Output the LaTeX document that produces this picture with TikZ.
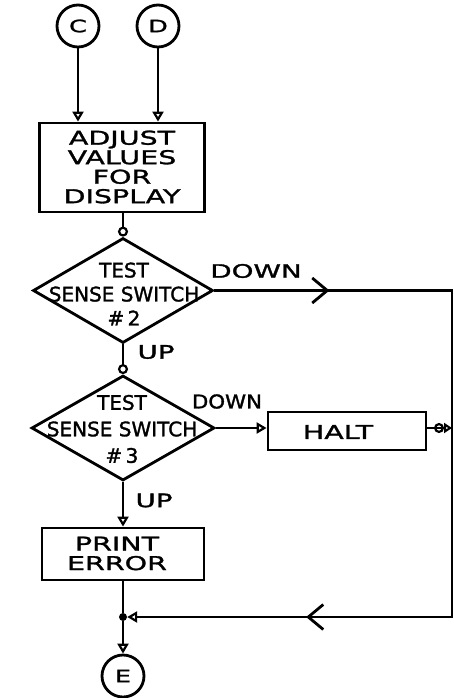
\documentclass[tikz,border=0pt]{standalone}
\usepackage{fontspec}
\setmainfont{DejaVu Sans}
\newfontfamily\widefont[FakeStretch=1.5, FakeBold=1.5]{DejaVu Sans}
\newfontfamily\midfont[FakeStretch=1.12, FakeBold=1.5]{DejaVu Sans}
\newfontfamily\narrowfont[FakeBold=1.5]{DejaVu Sans}
\usetikzlibrary{shapes.geometric,arrows.meta,decorations.markings}
\tikzset{
  ln/.style={line width=2.8pt},
  boxnode/.style={draw, rectangle, line width=2.8pt, inner sep=0pt},
  connnode/.style={draw, circle, line width=2.8pt, minimum size=42pt, inner sep=0pt, font=\widefont\fontsize{17}{18}\selectfont},
  dianode/.style={draw, diamond, line width=2.8pt, inner sep=0pt},
  boxtxt/.style={font=\widefont\fontsize{19}{19.5}\selectfont, align=center, inner sep=0pt},
  diatxt/.style={font=\narrowfont\fontsize{20}{24}\selectfont, align=center, inner sep=0pt},
  lbl/.style={font=\widefont\fontsize{18.5}{20}\selectfont, inner sep=0pt},
  lblb/.style={font=\midfont\fontsize{19}{20}\selectfont, inner sep=0pt},
  toT/.style={-{Triangle[open, length=10pt, width=11pt, line width=2.2pt]}},
  toO/.style={-{Circle[open, length=10pt, width=10pt, line width=2.2pt]}},
  toOT/.style={-{Circle[open, length=10pt, width=10pt, line width=2.2pt]Triangle[open, length=8pt, width=10pt, line width=2.2pt]}},
  chev/.tip={Straight Barb[length=15pt, width=25pt, line width=2.8pt]},
}
\begin{document}
\begin{tikzpicture}[x=1pt, y=-1pt]
\useasboundingbox (0,0) rectangle (453,698);
% connectors C, D
\node[connnode] (C) at (78,26) {C};
\node[connnode] (D) at (158,26) {D};
% adjust box
\node[boxnode, minimum width=165pt, minimum height=89pt] (adj) at (122,167.5) {};
\node[boxtxt] (adjt) at (122,167) {ADJUST\\VALUES\\FOR\\DISPLAY};
% diamonds
\node[dianode, minimum width=180pt, minimum height=105pt] (d1) at (123,290.5) {};
\node[diatxt] (d1t) at (124,294) {TEST\\SENSE SWITCH\\\#\,2\hspace{12pt}};
\node[dianode, minimum width=183pt, minimum height=105pt] (d2) at (123,428) {};
\node[diatxt, font=\narrowfont\fontsize{20}{26.5}\selectfont] (d2t) at (122,429) {TEST\\SENSE SWITCH\\\#\,3\hspace{12pt}};
% halt
\node[boxnode, minimum width=158pt, minimum height=38pt] (halt) at (347,431) {};
\node[boxtxt] (haltt) at (338,432) {HALT};
% print error
\node[boxnode, minimum width=162pt, minimum height=52pt] (pe) at (123,554) {};
\node[boxtxt] (pet) at (117,553.5) {PRINT\\ERROR};
% E
\node[connnode] (E) at (123,676) {E};
% labels
\node[lbl] (down1) at (256,271) {DOWN};
\node[lbl] (up1) at (156,352) {UP};
\node[lblb] (down2) at (227,401.5) {DOWN};
\node[lbl] (up2) at (154,500.5) {UP};
% junctions
\node[circle, fill, minimum size=8pt, inner sep=0pt] (j) at (123,617) {};
\coordinate (r1) at (452,290.5);
\coordinate (r2) at (452,617);
% connectors
\draw[ln, toT] (C) -- (C |- adj.north);
\draw[ln, toT] (D) -- (D |- adj.north);
\draw[ln, toO] (d1.north |- adj.south) -- (d1.north);
\draw[ln, toO] (d1.south) -- (d2.north);
\draw[ln, toT] (d2.south) -- (pe.north);
\draw[ln, toT] (d2.east) -- (d2.east -| halt.west);
\draw[ln, toOT] (halt.east |- d2.east) -- (d2.east -| r1);
\draw[ln, toT, postaction={decorate}, decoration={markings,
   mark=at position 115pt with {\arrow{chev}},
   mark=at position 710pt with {\arrow{chev}}}]
   (d1.east) -- (r1) -- (r2) -- (j);
\draw[ln] (pe.south) -- (j);
\draw[ln, toT] (j) -- (E.north);
\end{tikzpicture}
\end{document}
